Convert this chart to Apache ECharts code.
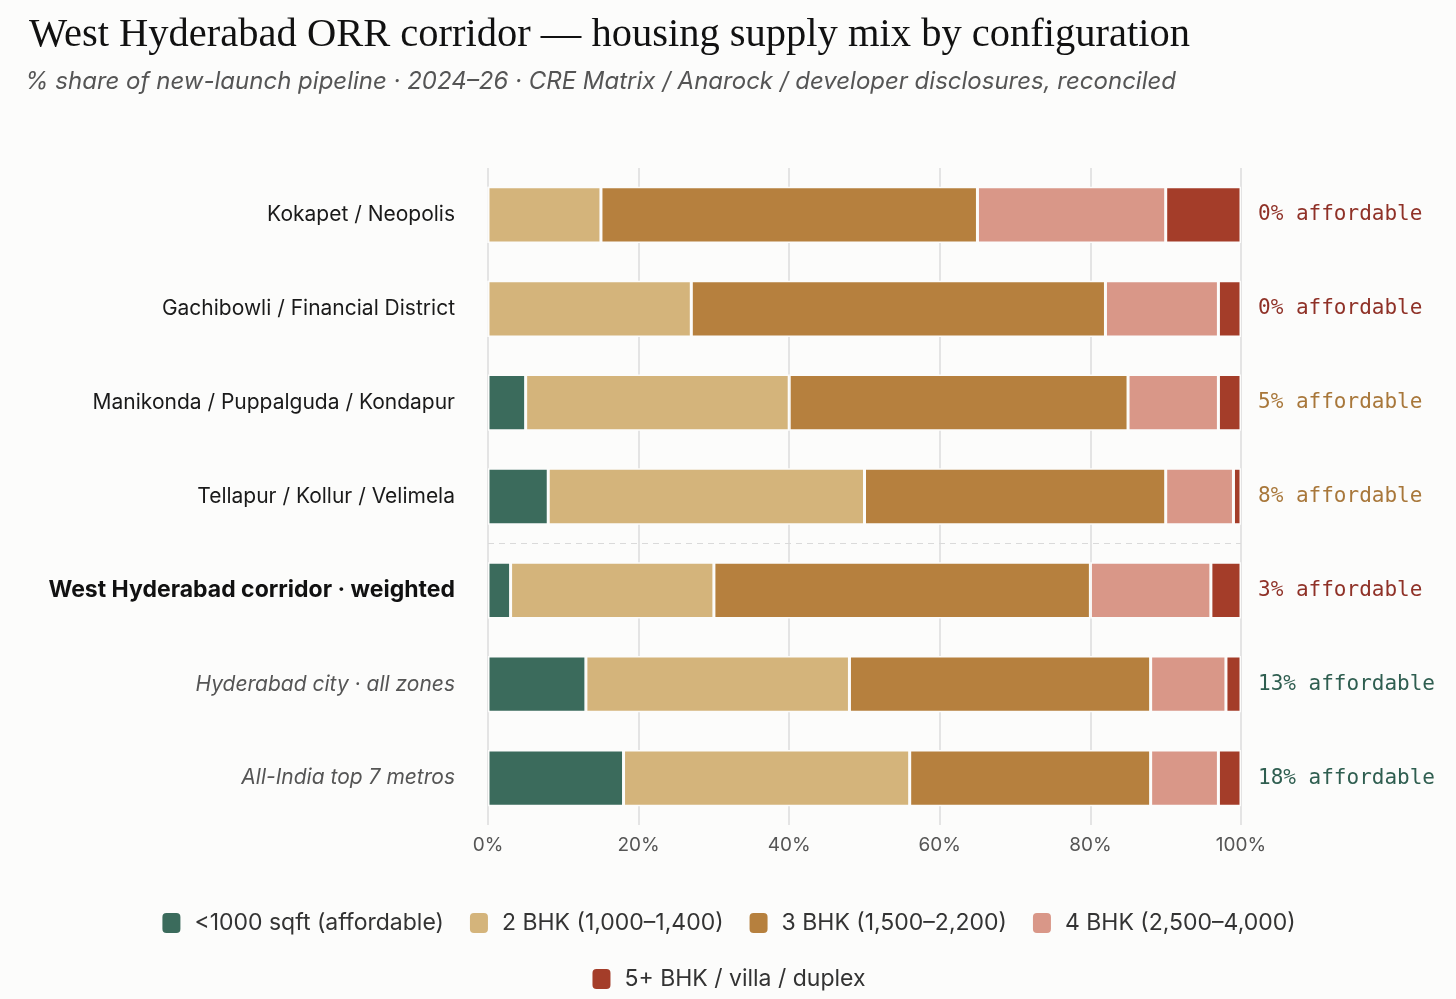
<!DOCTYPE html>
<html>
<head>
<meta charset="utf-8">
<script src="https://cdn.jsdelivr.net/npm/echarts@6/dist/echarts.min.js"></script>
<style>
  html, body { margin: 0; padding: 0; background: #fcfcfb; }
  #chart { width: 1456px; height: 999px; }
</style>
</head>
<body>
<div id="chart"></div>
<script>
var categories = [
    'Kokapet / Neopolis',
    'Gachibowli / Financial District',
    'Manikonda / Puppalguda / Kondapur',
    'Tellapur / Kollur / Velimela',
    'West Hyderabad corridor · weighted',
    'Hyderabad city · all zones',
    'All-India top 7 metros'
];
// label style per row: plain zones, the weighted corridor, benchmarks
var rowStyle = ['zone', 'zone', 'zone', 'zone', 'total', 'bench', 'bench'];
// dashed rule goes above this row
var splitBefore = 4;

var seriesNames = ['<1000 sqft (affordable)', '2 BHK (1,000–1,400)', '3 BHK (1,500–2,200)', '4 BHK (2,500–4,000)', '5+ BHK / villa / duplex'];
var affordable = [0, 0, 5, 8, 3, 13, 18];
var bhk2 = [15, 27, 35, 42, 27, 35, 38];
var bhk3 = [50, 55, 45, 40, 50, 40, 32];
var bhk4 = [25, 15, 12, 9, 16, 10, 9];
var bhk5 = [10, 3, 3, 1, 4, 2, 3];

var xTicks = [0, 20, 40, 60, 80, 100];

var colors = ['#3b6b5c', '#d4b47b', '#b6803e', '#d99788', '#a43d29'];

var chart = echarts.init(document.getElementById('chart'), null, {renderer: 'canvas'});

function affordColor(v) {
    if (v < 5) return 'red';
    if (v <= 10) return 'gold';
    return 'green';
}

function bar(name, data, i) {
    return {
        name: name,
        type: 'bar',
        stack: 'mix',
        barCategoryGap: '40%',
        data: data,
        itemStyle: { color: colors[i], borderColor: '#fcfcfb', borderWidth: 1.5 },
        emphasis: { disabled: true }
    };
}

var legendText = { fontFamily: 'Inter, sans-serif', fontSize: 23, color: '#333', padding: [0, 0, 0, 8] };

chart.setOption({
    backgroundColor: '#fcfcfb',
    animation: false,
    title: [{
        text: 'West Hyderabad ORR corridor — housing supply mix by configuration',
        left: 24, top: 10,
        textStyle: { fontFamily: '"Liberation Serif", "DejaVu Serif", serif', fontWeight: 'normal', fontSize: 40.5, color: '#111' }
    }, {
        text: '% share of new-launch pipeline · 2024–26 · CRE Matrix / Anarock / developer disclosures, reconciled',
        left: 20, top: 65,
        textStyle: { fontFamily: 'Inter, sans-serif', fontStyle: 'italic', fontWeight: 'normal', fontSize: 24, color: '#555' }
    }],
    legend: [{
        data: seriesNames.slice(0, 4),
        top: 906, left: 'center',
        icon: 'roundRect', itemWidth: 20, itemHeight: 22, itemGap: 24,
        textStyle: legendText
    }, {
        data: seriesNames.slice(4),
        top: 962, left: 'center',
        icon: 'roundRect', itemWidth: 20, itemHeight: 22,
        textStyle: legendText
    }],
    grid: { left: 488, right: 215, top: 168, bottom: 174, containLabel: false },
    xAxis: {
        type: 'value', min: 0, max: 100, interval: 20,
        axisLine: { show: false }, axisTick: { show: false },
        splitLine: { lineStyle: { color: '#dcdcdc', width: 1.5 } },
        axisLabel: {
            margin: 11,
            formatter: function (v) { return xTicks.indexOf(v) >= 0 ? v + '%' : ''; },
            fontFamily: 'Inter, sans-serif', fontSize: 19, color: '#555'
        }
    },
    yAxis: [{
        type: 'category', data: categories, inverse: true,
        axisLine: { show: false }, axisTick: { show: false },
        axisLabel: {
            margin: 33,
            formatter: function (v, i) { return '{' + rowStyle[i] + '|' + v + '}'; },
            rich: {
                zone: { fontFamily: 'Inter, sans-serif', fontSize: 21, color: '#1a1a1a' },
                total: { fontFamily: 'Inter, sans-serif', fontSize: 23, fontWeight: 'bold', color: '#111' },
                bench: { fontFamily: 'Inter, sans-serif', fontSize: 21, fontStyle: 'italic', color: '#555' }
            }
        }
    }, {
        type: 'category', data: categories, inverse: true, position: 'right',
        axisLine: { show: false }, axisTick: { show: false },
        axisLabel: {
            margin: 17,
            align: 'left',
            formatter: function (v, i) {
                var a = affordable[i];
                return '{' + affordColor(a) + '|' + a + '% affordable}';
            },
            rich: {
                red: { fontFamily: '"DejaVu Sans Mono", monospace', fontSize: 21, color: '#8f3127' },
                gold: { fontFamily: '"DejaVu Sans Mono", monospace', fontSize: 21, color: '#a8773a' },
                green: { fontFamily: '"DejaVu Sans Mono", monospace', fontSize: 21, color: '#2f5e50' }
            }
        }
    }, {
        // hidden row-index axis, used only to place the dashed separator between bands
        type: 'value', min: 0, max: categories.length, inverse: true, show: false
    }],
    series: [
        bar(seriesNames[0], affordable, 0),
        bar(seriesNames[1], bhk2, 1),
        bar(seriesNames[2], bhk3, 2),
        bar(seriesNames[3], bhk4, 3),
        bar(seriesNames[4], bhk5, 4),
        {
            type: 'line', yAxisIndex: 2, data: [], silent: true,
            markLine: {
                symbol: 'none', silent: true, label: { show: false },
                lineStyle: { color: '#dadada', type: [6, 5], width: 1.2 },
                data: [{ yAxis: splitBefore }]
            }
        }
    ]
});
</script>
</body>
</html>
